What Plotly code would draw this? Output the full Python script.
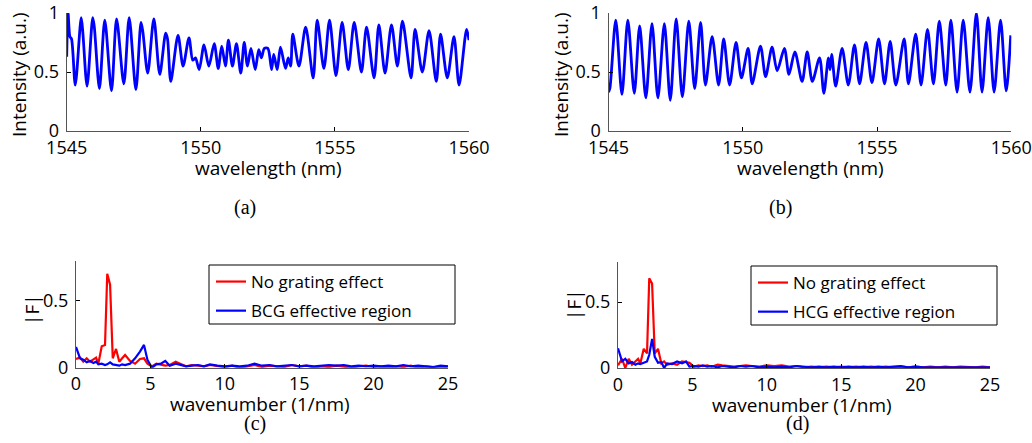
import plotly.graph_objects as go

# ---------------- data ----------------
wl_a = [1545.00, 1545.05, 1545.12, 1545.18, 1545.32, 1545.54, 1545.60, 1545.76, 1545.97, 1546.03,
        1546.22, 1546.42, 1546.67, 1546.86, 1547.13, 1547.33, 1547.58, 1547.77, 1547.84, 1548.02,
        1548.25, 1548.47, 1548.69, 1548.76, 1548.88, 1549.15, 1549.34, 1549.56, 1549.70, 1549.80,
        1549.94, 1550.12, 1550.30, 1550.50, 1550.65, 1550.78, 1550.92, 1551.03, 1551.18, 1551.33,
        1551.49, 1551.62, 1551.74, 1551.87, 1552.03, 1552.16, 1552.26, 1552.37, 1552.50, 1552.64,
        1552.72, 1552.85, 1552.97, 1553.16, 1553.26, 1553.35, 1553.43, 1553.66, 1553.91, 1554.19,
        1554.34, 1554.59, 1554.80, 1555.04, 1555.27, 1555.50, 1555.72, 1555.99, 1556.18, 1556.46,
        1556.64, 1556.87, 1557.11, 1557.33, 1557.52, 1557.84, 1557.99, 1558.26, 1558.51, 1558.78,
        1558.94, 1559.19, 1559.44, 1559.63, 1559.91, 1560.00]
int_a = [0.63, 1.00, 0.80, 0.78, 0.39, 0.96, 0.84, 0.38, 0.96, 0.88,
         0.36, 0.94, 0.34, 0.95, 0.40, 0.96, 0.35, 0.92, 0.84, 0.49,
         0.95, 0.48, 0.83, 0.78, 0.42, 0.81, 0.55, 0.79, 0.60, 0.62,
         0.52, 0.73, 0.55, 0.74, 0.53, 0.72, 0.55, 0.77, 0.55, 0.74,
         0.49, 0.75, 0.55, 0.70, 0.52, 0.69, 0.62, 0.70, 0.70, 0.52,
         0.65, 0.52, 0.71, 0.53, 0.62, 0.55, 0.82, 0.55, 0.88, 0.45,
         0.94, 0.53, 0.94, 0.47, 0.92, 0.52, 0.92, 0.50, 0.88, 0.45,
         0.90, 0.49, 0.90, 0.55, 0.93, 0.45, 0.86, 0.50, 0.85, 0.42,
         0.82, 0.45, 0.80, 0.39, 0.86, 0.77]

wl_b = [1545.00, 1545.05, 1545.27, 1545.50, 1545.72, 1545.96, 1546.16, 1546.39, 1546.62, 1546.84,
        1547.08, 1547.30, 1547.52, 1547.75, 1547.99, 1548.21, 1548.43, 1548.61, 1548.86, 1549.10,
        1549.29, 1549.51, 1549.75, 1549.95, 1550.20, 1550.35, 1550.66, 1550.85, 1551.09, 1551.28,
        1551.55, 1551.72, 1551.94, 1552.21, 1552.40, 1552.59, 1552.86, 1553.02, 1553.19, 1553.25,
        1553.31, 1553.46, 1553.70, 1553.93, 1554.16, 1554.35, 1554.59, 1554.81, 1555.06, 1555.28,
        1555.49, 1555.70, 1556.01, 1556.17, 1556.44, 1556.64, 1556.88, 1557.10, 1557.32, 1557.56,
        1557.75, 1557.98, 1558.21, 1558.46, 1558.70, 1558.91, 1559.14, 1559.36, 1559.60, 1559.81,
        1559.98]
int_b = [0.33, 0.36, 0.94, 0.31, 0.94, 0.32, 0.89, 0.28, 0.91, 0.28,
         0.91, 0.26, 0.95, 0.29, 0.93, 0.36, 0.92, 0.39, 0.80, 0.39,
         0.78, 0.39, 0.75, 0.45, 0.70, 0.40, 0.72, 0.46, 0.71, 0.51,
         0.70, 0.48, 0.67, 0.42, 0.67, 0.42, 0.62, 0.32, 0.62, 0.52,
         0.65, 0.38, 0.70, 0.39, 0.73, 0.40, 0.75, 0.41, 0.78, 0.40,
         0.76, 0.39, 0.78, 0.40, 0.82, 0.39, 0.86, 0.40, 0.93, 0.39,
         0.94, 0.33, 0.94, 0.33, 1.00, 0.33, 0.96, 0.33, 0.94, 0.34,
         0.81]

wavenumber = [0, 0.27, 0.49, 0.72, 0.94, 1.17, 1.35, 1.5, 1.73, 1.95,
              2.1, 2.29, 2.47, 2.69, 2.91, 3.1, 3.3, 3.63, 3.97, 4.3,
              4.57, 4.8, 5.1, 5.4, 5.7, 6.0, 6.3, 6.7, 7.0, 7.4,
              7.8, 8.2, 8.6, 9.0, 9.5,
              10, 10.5, 11, 11.5, 12, 12.5, 13, 13.5, 14, 14.5,
              15, 15.5, 16, 16.5, 17, 17.5, 18, 18.5, 19, 19.5,
              20, 20.5, 21, 21.5, 22, 22.5, 23, 23.5, 24, 24.5, 25]

red_c = [0.065, 0.075, 0.045, 0.07, 0.045, 0.06, 0.075, 0.03, 0.16, 0.17,
         0.70, 0.62, 0.07, 0.14, 0.045, 0.07, 0.095, 0.05, 0.03, 0.065,
         0.07, 0.03, 0.01, 0.03, 0.02, 0.015, 0.02, 0.045, 0.03, 0.01,
         0.02, 0.015, 0.01, 0.02, 0.01,
         0.005, 0.015, 0.0, 0.01, 0.02, 0.005, 0.015, 0.01, 0.005, 0.02,
         0.01, 0.015, 0.0, 0.01, 0.005, 0.015, 0.01, 0.0, 0.01, 0.015,
         0.005, 0.01, 0.0, 0.01, 0.005, 0.015, 0.0, 0.01, 0.005, 0.0, 0.01]
blue_c = [0.155, 0.07, 0.06, 0.04, 0.05, 0.035, 0.045, 0.025, 0.03, 0.02,
          0.025, 0.04, 0.025, 0.02, 0.015, 0.025, 0.02, 0.03, 0.07, 0.12,
          0.17, 0.06, 0.0, 0.025, 0.03, 0.05, 0.015, 0.03, 0.02, 0.01,
          0.015, 0.02, 0.01, 0.025, 0.015,
          0.01, 0.015, 0.01, 0.015, 0.03, 0.015, 0.02, 0.01, 0.015, 0.02,
          0.01, 0.015, 0.01, 0.015, 0.02, 0.015, 0.02, 0.01, 0.015, 0.01,
          0.015, 0.01, 0.015, 0.01, 0.02, 0.01, 0.015, 0.01, 0.005, 0.015, 0.01]
red_d = [0.02, 0.07, 0.0, 0.07, 0.025, 0.05, 0.07, 0.035, 0.145, 0.11,
         0.68, 0.64, 0.11, 0.145, 0.035, 0.05, 0.025, 0.035, 0.025, 0.05,
         0.045, 0.04, 0.01, 0.02, 0.015, 0.02, 0.01, 0.025, 0.02, 0.015,
         0.01, 0.015, 0.02, 0.015, 0.01,
         0.02, 0.015, 0.02, 0.01, 0.015, 0.005, 0.01, 0.005, 0.01, 0.005,
         0.01, 0.005, 0.01, 0.005, 0.01, 0.005, 0.01, 0.005, 0.01, 0.005,
         0.01, 0.005, 0.01, 0.005, 0.01, 0.005, 0.01, 0.005, 0.005, 0.01, 0.005]
blue_d = [0.15, 0.05, 0.07, 0.035, 0.045, 0.025, 0.035, 0.03, 0.04, 0.05,
          0.10, 0.22, 0.085, 0.04, 0.045, 0.0, 0.035, 0.03, 0.05, 0.035,
          0.05, 0.01, 0.015, 0.01, 0.02, 0.01, 0.015, 0.005, 0.015, 0.01,
          0.005, 0.015, 0.01, 0.015, 0.005,
          0.01, 0.005, 0.01, 0.005, 0.015, 0.01, 0.005, 0.01, 0.005, 0.01,
          0.005, 0.01, 0.005, 0.01, 0.005, 0.01, 0.005, 0.01, 0.015, 0.005,
          0.01, 0.005, 0.005, 0.01, 0.005, 0.01, 0.005, 0.01, 0.005, 0.005, 0.005]

wl_ticks = [1545, 1550, 1555, 1560]
int_ticks = [0, 0.5, 1]
k_ticks = [0, 5, 10, 15, 20, 25]
f_ticks = [0, 0.5]
captions = ["(a)", "(b)", "(c)", "(d)"]
legend_names = ["No grating effect", "BCG effective region", "HCG effective region"]
x_titles = ["wavelength (nm)", "wavelength (nm)", "wavenumber (1/nm)", "wavenumber (1/nm)"]
y_titles = ["Intensity (a.u.)", "Intensity (a.u.)", "|F|", "|F|"]

# ---------------- figure ----------------
W, H = 1032, 443
BLUE = "#0000ff"
RED = "#ff0000"
SANS = "Open Sans"
SERIF = "Liberation Serif"
FS_TICK = 18
FS_TITLE = 19
FS_LEG = 17

fig = go.Figure()
fig.add_trace(go.Scatter(x=wl_a, y=int_a, mode="lines", line=dict(color=BLUE, width=2.8, shape="spline", smoothing=0.8),
                         xaxis="x", yaxis="y", showlegend=False))
fig.add_trace(go.Scatter(x=wl_b, y=int_b, mode="lines", line=dict(color=BLUE, width=2.8, shape="spline", smoothing=0.8),
                         xaxis="x2", yaxis="y2", showlegend=False))
fig.add_trace(go.Scatter(x=wavenumber, y=red_c, mode="lines", line=dict(color=RED, width=2.2),
                         xaxis="x3", yaxis="y3", name=legend_names[0], legend="legend", legendgroup="c1"))
fig.add_trace(go.Scatter(x=wavenumber, y=blue_c, mode="lines", line=dict(color=BLUE, width=2.2),
                         xaxis="x3", yaxis="y3", name=legend_names[1], legend="legend", legendgroup="c2"))
fig.add_trace(go.Scatter(x=wavenumber, y=red_d, mode="lines", line=dict(color=RED, width=2.2),
                         xaxis="x4", yaxis="y4", name=legend_names[0], legend="legend2", legendgroup="d1"))
fig.add_trace(go.Scatter(x=wavenumber, y=blue_d, mode="lines", line=dict(color=BLUE, width=2.2),
                         xaxis="x4", yaxis="y4", name=legend_names[2], legend="legend2", legendgroup="d2"))


def px_x(p):
    return p / W


def px_y(p):
    return (H - p) / H


axis_common = dict(showline=True, linecolor="#555555", linewidth=1, ticks="inside", ticklen=4,
                   tickcolor="#000000", showgrid=False, zeroline=False, mirror=False, automargin=False,
                   ticklabeloverflow="allow", tickfont=dict(family=SANS, size=FS_TICK, color="black"))

def xa(domain, rng, ticks, anchor):
    d = dict(axis_common)
    d.update(domain=domain, range=rng, tickvals=ticks, anchor=anchor)
    return d

def ya(domain, rng, ticks, anchor):
    d = dict(axis_common)
    d.update(domain=domain, range=rng, tickvals=ticks, anchor=anchor, ticklabelstandoff=3)
    return d

top_y = [px_y(131), px_y(13)]
legend_style = dict(xanchor="left", yanchor="top", bgcolor="rgba(0,0,0,0)", borderwidth=0,
                    font=dict(family=SANS, size=FS_LEG, color="black"), tracegroupgap=4)
fig.update_layout(
    width=W, height=H, margin=dict(l=0, r=0, t=0, b=0, autoexpand=False),
    paper_bgcolor="white", plot_bgcolor="white",
    xaxis=xa([px_x(66.7), px_x(469)], [1545, 1560], wl_ticks, "y"),
    yaxis=ya(top_y, [0, 1], int_ticks, "x"),
    xaxis2=xa([px_x(608.5), px_x(1011.3)], [1545, 1560], wl_ticks, "y2"),
    yaxis2=ya(top_y, [0, 1], int_ticks, "x2"),
    xaxis3=xa([px_x(76), px_x(448)], [0, 25], k_ticks, "y3"),
    yaxis3=ya([px_y(367.7), px_y(260.5)], [0, 0.8], f_ticks, "x3"),
    xaxis4=xa([px_x(618), px_x(990)], [0, 25], k_ticks, "y4"),
    yaxis4=ya([px_y(368), px_y(262.4)], [0, 0.8], f_ticks, "x4"),
    legend=dict(x=px_x(211), y=px_y(264), **legend_style),
    legend2=dict(x=px_x(753), y=px_y(265), **legend_style),
)

# legend frames (MATLAB-style boxes, wider than the text)
for (x0, y0, x1, y1) in [(209, 265, 455, 324), (751, 266, 997, 325)]:
    fig.add_shape(type="rect", xref="paper", yref="paper", x0=px_x(x0), x1=px_x(x1), y0=px_y(y1), y1=px_y(y0),
                  line=dict(color="black", width=1), fillcolor="white", layer="above")

# axis titles (placed to match the reference)
xt_pos = [(268, 168), (810, 168), (260, 404), (802, 405)]
for txt, (cx, cy) in zip(x_titles, xt_pos):
    fig.add_annotation(x=px_x(cx), y=px_y(cy), xref="paper", yref="paper", text=txt, showarrow=False,
                       xanchor="center", yanchor="middle", font=dict(family=SANS, size=FS_TITLE, color="black"))
yt_pos = [(19, 75), (561, 75), (32, 310), (574, 305)]
for txt, (cx, cy) in zip(y_titles, yt_pos):
    fig.add_annotation(x=px_x(cx), y=px_y(cy), xref="paper", yref="paper", text=txt, showarrow=False,
                       textangle=-90, xanchor="center", yanchor="middle",
                       font=dict(family=SANS, size=FS_TITLE, color="black"))

cap_pos = [(245, 207), (780, 207), (255, 423), (797, 423)]
for txt, (cx, cy) in zip(captions, cap_pos):
    fig.add_annotation(x=px_x(cx), y=px_y(cy), xref="paper", yref="paper", text=txt, showarrow=False,
                       xanchor="center", yanchor="middle", font=dict(family=SERIF, size=20, color="black"))

fig.write_html("out.html", config={"displayModeBar": False},
               post_script="document.body.style.margin='0';")
